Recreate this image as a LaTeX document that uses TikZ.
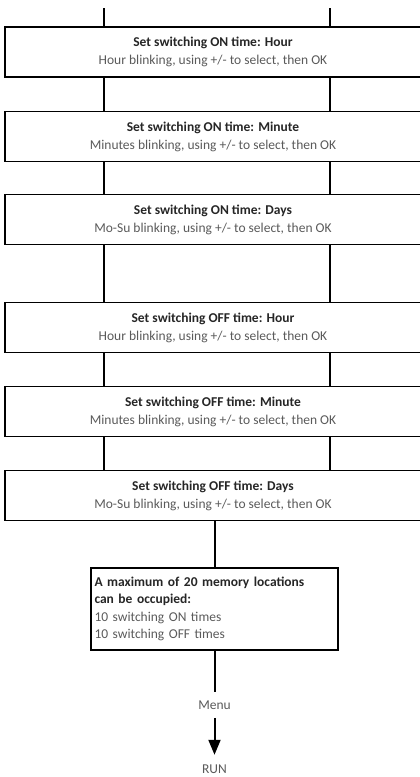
\documentclass[tikz,border=0pt]{standalone}
\usepackage{fontspec}
\setmainfont{Carlito}
\usepackage{xcolor}
\usetikzlibrary{arrows.meta, positioning}

\definecolor{titlegray}{HTML}{262626}
\definecolor{textgray}{HTML}{5A5A5A}

\tikzset{
  stepbox/.style={rectangle, draw, line width=1.2pt, outer sep=0pt, minimum width=416pt, minimum height=50pt,
    inner sep=0pt, align=center, font=\fontsize{13.5}{18}\selectfont},
  notebox/.style={rectangle, draw, line width=1.2pt, outer sep=0pt, text width=240pt, minimum height=82pt,
    inner xsep=3.5pt, align=left, font=\fontsize{13.5}{17.5}\selectfont},
  plain/.style={inner xsep=2pt, inner ysep=8.5pt, outer sep=0pt, text=textgray, font=\fontsize{13.5}{15}\selectfont},
  flow/.style={line width=2pt}
}
\newcommand{\steptext}[2]{{\color{titlegray}\bfseries #1}\\{\color{textgray}#2}}

\begin{document}
\begin{tikzpicture}[x=1pt, y=-1pt, node distance=34pt]
        \useasboundingbox (0,0) rectangle (420,777);

        \node (onhour) [stepbox] at (213,52) {\steptext{Set switching ON time: Hour}{Hour blinking, using +/- to select, then OK}};
        \node (onmin) [stepbox, below=34.5pt of onhour] {\steptext{Set switching ON time: Minute}{Minutes blinking, using +/- to select, then OK}};
        \node (ondays) [stepbox, below=33pt of onmin] {\steptext{Set switching ON time: Days}{Mo-Su blinking, using +/- to select, then OK}};
        \node (offhour) [stepbox, below=58pt of ondays] {\steptext{Set switching OFF time: Hour}{Hour blinking, using +/- to select, then OK}};
        \node (offmin) [stepbox, below=of offhour] {\steptext{Set switching OFF time: Minute}{Minutes blinking, using +/- to select, then OK}};
        \node (offdays) [stepbox, below=of offmin] {\steptext{Set switching OFF time: Days}{Mo-Su blinking, using +/- to select, then OK}};
        \node (memory) [notebox, below=47.5pt of offdays, xshift=1.5pt] {{\color{titlegray}\bfseries A maximum of 20 memory locations\\can be occupied:}\\{\color{textgray}10 switching ON times\\10 switching OFF times}};
        \node (menu) [plain, below=42pt of memory] {Menu};
        \node (run) [plain, inner ysep=10.5pt, below=37pt of menu] {RUN};

        \coordinate (lcol) at (104,8);
        \coordinate (rcol) at (330,8);

        % two rails through the time steps
        \draw[flow] (lcol) -- (lcol |- onhour.north);
        \draw[flow] (rcol) -- (rcol |- onhour.north);
        \draw[flow] (onhour.south -| lcol) -- (onmin.north -| lcol);
        \draw[flow] (onhour.south -| rcol) -- (onmin.north -| rcol);
        \draw[flow] (onmin.south -| lcol) -- (ondays.north -| lcol);
        \draw[flow] (onmin.south -| rcol) -- (ondays.north -| rcol);
        \draw[flow] (ondays.south -| lcol) -- (offhour.north -| lcol);
        \draw[flow] (ondays.south -| rcol) -- (offhour.north -| rcol);
        \draw[flow] (offhour.south -| lcol) -- (offmin.north -| lcol);
        \draw[flow] (offhour.south -| rcol) -- (offmin.north -| rcol);
        \draw[flow] (offmin.south -| lcol) -- (offdays.north -| lcol);
        \draw[flow] (offmin.south -| rcol) -- (offdays.north -| rcol);

        \draw[flow] (offdays.south -| memory) -- (memory.north);
        \draw[flow] (memory) -- (menu);
        \draw[flow, -{Triangle[length=15pt, width=12pt]}] (menu) -- (run);
    \end{tikzpicture}
\end{document}
